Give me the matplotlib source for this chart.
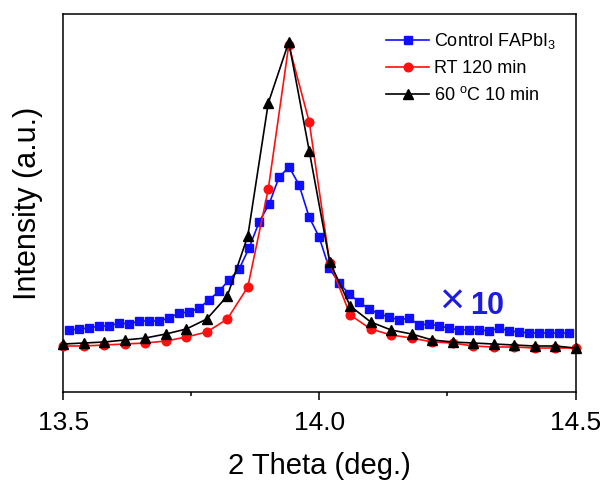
import numpy as np
import matplotlib
matplotlib.use("Agg")
import matplotlib.pyplot as plt
from matplotlib.ticker import MultipleLocator

plt.rcParams['font.family'] = ['Liberation Sans', 'DejaVu Sans']
plt.rcParams['mathtext.fontset'] = 'custom'
plt.rcParams['mathtext.rm'] = 'Liberation Sans'
plt.rcParams['mathtext.it'] = 'Liberation Sans:italic'

# 2-theta grids (instrument step) and intensities (arb. units)
theta_ctrl = np.round(13.511 + 0.01953 * np.arange(51), 4)
ctrl = [64, 65, 66, 68, 68, 71, 70, 73, 73, 73, 76, 81, 82, 86, 94, 103, 114, 125,
        146, 172, 190, 217, 227, 209, 177, 157, 126, 111, 100, 92, 85, 80, 77, 74,
        76, 69, 70, 68, 66, 64, 64, 64, 63, 66, 63, 62, 61, 61, 61, 61, 61]

theta = np.round(13.5 + 0.04 * np.arange(26), 3)
rt120 = [48, 48, 49, 50, 51, 53, 57, 62, 75, 107, 205, 349, 272, 131, 79, 65, 59,
         56, 52, 51, 48, 47, 47, 46, 46, 46]
heat60 = [50, 51, 52, 54, 56, 60, 65, 75, 98, 158, 291, 352, 243, 132, 88, 72, 64,
          60, 54, 52, 51, 50, 49, 48, 48, 46]

fig = plt.figure(figsize=(6.14, 4.88), dpi=100)
ax = fig.add_axes([0.1034, 0.1957, 0.8339, 0.7756])

ax.plot(theta_ctrl, ctrl, color='#0f0fff', marker='s', markersize=5.4, lw=1.2,
        label='Control FAPbI$_3$', clip_on=False, zorder=3)
ax.plot(theta, rt120, color='#ff0f0f', marker='o', markersize=6.2, lw=1.2,
        label='RT 120 min', clip_on=False, zorder=4)
ax.plot(theta, heat60, color='black', marker='^', markersize=6.6, lw=1.2,
        label='60 $^\\mathrm{o}$C 10 min', clip_on=False, zorder=5)

ax.set_xlim(13.5, 14.5)
ax.set_ylim(1.5, 380)
ax.xaxis.set_major_locator(MultipleLocator(0.5))
ax.xaxis.set_minor_locator(MultipleLocator(0.25))
ax.xaxis.set_major_formatter(plt.FormatStrFormatter('%.1f'))
ax.tick_params(axis='x', which='major', direction='out', length=5.5, width=1.1,
               labelsize=19, pad=8)
ax.tick_params(axis='x', which='minor', direction='out', length=3, width=1.1)
ax.set_yticks([])
for s in ax.spines.values():
    s.set_linewidth(1.1)

ax.set_xlabel('2 Theta (deg.)', fontsize=21, labelpad=12)
ax.set_ylabel('Intensity (a.u.)', fontsize=22, labelpad=15)

# "x10" scale note for the control curve
ax.text(14.257, 91, '\u00d7', color='#1c1ce0', fontsize=31, ha='center', va='center')
ax.text(14.294, 88, '10', color='#1c1ce0', fontsize=22, fontweight='bold',
        ha='left', va='center')

ax.legend(loc='upper left', bbox_to_anchor=(0.63, 0.955), frameon=False,
          fontsize=13, handlelength=2.4, handletextpad=0.25, labelspacing=0.5,
          borderpad=0, borderaxespad=0)

fig.savefig('out.png', dpi=100)
